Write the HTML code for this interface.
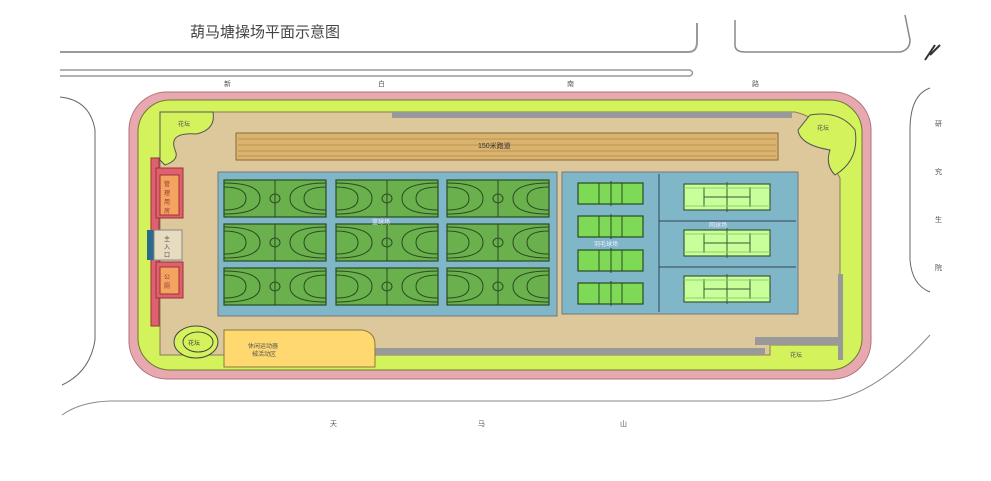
<!DOCTYPE html>
<html><head><meta charset="utf-8"><style>
html,body{margin:0;padding:0;background:#fff;}
svg{display:block;font-family:"Liberation Sans","Noto Sans CJK SC",sans-serif;}
</style></head><body>
<svg width="991" height="481" viewBox="0 0 991 481" xmlns="http://www.w3.org/2000/svg">
<defs>
<g id="bb">
<rect x="0" y="0" width="102" height="37" fill="#6ab04c" stroke="#2a4a22" stroke-width="1.2"/>
<line x1="51" y1="0" x2="51" y2="37" stroke="#2a4a22" stroke-width="1"/>
<ellipse cx="51" cy="18.5" rx="5" ry="4.5" fill="none" stroke="#2a4a22"/>
<path d="M0,3 Q36,3 36,18.5 Q36,34 0,34" fill="none" stroke="#2a4a22"/>
<path d="M0,7 Q22,7 22,18.5 Q22,30 0,30" fill="none" stroke="#2a4a22"/>
<path d="M102,3 Q66,3 66,18.5 Q66,34 102,34" fill="none" stroke="#2a4a22"/>
<path d="M102,7 Q80,7 80,18.5 Q80,30 102,30" fill="none" stroke="#2a4a22"/>
</g>
<g id="bd">
<rect x="0" y="0" width="65" height="21" fill="#7ed957" stroke="#2a4a22" stroke-width="1.2"/>
<line x1="21" y1="0" x2="21" y2="21" stroke="#2a4a22"/><line x1="33" y1="-2" x2="33" y2="23" stroke="#2a4a22"/><line x1="44" y1="0" x2="44" y2="21" stroke="#2a4a22"/>
</g>
<g id="tn">
<rect x="0" y="0" width="86" height="26" fill="#c8ff9a" stroke="#3a5a32" stroke-width="1.2"/>
<line x1="20" y1="3" x2="20" y2="23" stroke="#3a5a32"/><line x1="66" y1="3" x2="66" y2="23" stroke="#3a5a32"/>
<line x1="20" y1="13" x2="66" y2="13" stroke="#3a5a32"/><line x1="43" y1="-2" x2="43" y2="28" stroke="#3a5a32"/>
<line x1="0" y1="4" x2="86" y2="4" stroke="#8fcf6a"/><line x1="0" y1="22" x2="86" y2="22" stroke="#8fcf6a"/>
</g>
</defs>
<!-- title -->
<text x="190" y="37" font-size="15" fill="#444">葫马塘操场平面示意图</text>
<!-- roads -->
<path d="M60,52 H688 Q697,52 697,42 V23" fill="none" stroke="#999" stroke-width="2"/>
<path d="M735,20 V45 Q735,52 745,52 H900 Q910,50 910,40 L905,15" fill="none" stroke="#888" stroke-width="1.5"/>
<path d="M60,70 H690 Q695,73 690,76 H60" fill="none" stroke="#999" stroke-width="1.5"/>
<path d="M60,97 Q90,100 95,130 V340 Q90,372 62,385" fill="none" stroke="#666" stroke-width="1"/>
<path d="M930,88 Q910,95 910,130 V260 Q912,285 930,292" fill="none" stroke="#666" stroke-width="1"/>
<path d="M62,415 Q80,402 110,401 H820 Q870,401 930,335" fill="none" stroke="#888" stroke-width="1"/>
<path d="M925,60 L935,45 M930,55 L940,45" stroke="#333" stroke-width="2"/>
<g font-size="7" fill="#555">
<text x="224" y="86">新</text><text x="378" y="86">白</text><text x="567" y="86">南</text><text x="752" y="86">路</text>
<text x="935" y="126">研</text><text x="935" y="174">究</text><text x="935" y="222">生</text><text x="935" y="270">院</text>
<text x="330" y="426">天</text><text x="478" y="426">马</text><text x="620" y="426">山</text>
</g>
<!-- site -->
<rect x="129" y="92" width="742" height="287" rx="38" fill="#e8a8b0" stroke="#b07078"/>
<rect x="138" y="100" width="724" height="270" rx="32" fill="#d4f25c" stroke="#6a7a30"/>
<path d="M160,112 H795 Q830,120 830,160 L840,178 V345 H770 V355 H160 Z" fill="#dcc89a" stroke="#8a7a5a"/>
<path d="M160,112 H213 Q216,130 196,134 Q168,132 175,150 Q180,160 165,165 L160,160 Z" fill="#d4f25c" stroke="#555"/>
<path d="M810,115 Q840,110 855,130 Q860,160 835,175 Q825,165 830,150 Q800,145 798,130 Z" fill="#d4f25c" stroke="#555"/>
<rect x="392" y="112" width="400" height="6" fill="#999"/>
<rect x="838" y="274" width="5" height="86" fill="#999"/>
<path d="M375,348 H765 V355 H375 Z" fill="#999"/>
<path d="M755,337 H840 V345 H755 Z" fill="#999"/>
<!-- track -->
<rect x="236" y="133" width="542" height="27" fill="#d8b470" stroke="#8a6a3a"/>
<g stroke="#c0904a"><line x1="238" y1="139" x2="776" y2="139"/><line x1="238" y1="145" x2="776" y2="145"/><line x1="238" y1="151" x2="776" y2="151"/><line x1="238" y1="156" x2="776" y2="156"/></g>
<text x="478" y="148" font-size="7" fill="#333">150米跑道</text>
<!-- basketball -->
<rect x="218" y="172" width="339" height="144" fill="#7fb6c8" stroke="#777"/>
<use href="#bb" x="224" y="180"/><use href="#bb" x="336" y="180"/><use href="#bb" x="447" y="180"/>
<use href="#bb" x="224" y="224"/><use href="#bb" x="336" y="224"/><use href="#bb" x="447" y="224"/>
<use href="#bb" x="224" y="268"/><use href="#bb" x="336" y="268"/><use href="#bb" x="447" y="268"/>
<text x="372" y="224" font-size="6" fill="#eef">篮球场</text>
<!-- right courts -->
<rect x="562" y="172" width="236" height="142" fill="#7fb6c8" stroke="#777"/>
<line x1="659" y1="174" x2="659" y2="312" stroke="#345"/>
<line x1="659" y1="221" x2="796" y2="221" stroke="#345"/>
<line x1="659" y1="267" x2="796" y2="267" stroke="#345"/>
<use href="#bd" x="578" y="183"/><use href="#bd" x="578" y="216"/><use href="#bd" x="578" y="250"/><use href="#bd" x="578" y="283"/>
<use href="#tn" x="684" y="184"/><use href="#tn" x="684" y="230"/><use href="#tn" x="684" y="276"/>
<text x="594" y="246" font-size="6" fill="#eef">羽毛球场</text>
<text x="709" y="227" font-size="6" fill="#eef">网球场</text>
<!-- left building -->
<rect x="151" y="158" width="8" height="168" fill="#e06070" stroke="#933"/>
<rect x="156" y="168" width="27" height="50" fill="#e06070" stroke="#933"/>
<rect x="160" y="175" width="19" height="40" fill="#f4a460" stroke="#933"/>
<text x="164" y="186" font-size="6" fill="#933">管</text><text x="164" y="195" font-size="6" fill="#933">理</text><text x="164" y="204" font-size="6" fill="#933">用</text><text x="164" y="213" font-size="6" fill="#933">房</text>
<rect x="147" y="230" width="7" height="30" fill="#2a6a8a"/>
<rect x="154" y="230" width="28" height="30" fill="#e8dcc0" stroke="#888"/>
<text x="164" y="241" font-size="6" fill="#555">主</text><text x="164" y="249" font-size="6" fill="#555">入</text><text x="164" y="257" font-size="6" fill="#555">口</text>
<rect x="156" y="262" width="27" height="36" fill="#e06070" stroke="#933"/>
<rect x="160" y="267" width="19" height="27" fill="#f4a460" stroke="#933"/>
<text x="164" y="279" font-size="6" fill="#933">公</text><text x="164" y="288" font-size="6" fill="#933">厕</text>
<!-- bottom left -->
<ellipse cx="196" cy="342" rx="22" ry="16" fill="#d4f25c" stroke="#444"/>
<ellipse cx="198" cy="342" rx="15" ry="10" fill="none" stroke="#444"/>
<text x="188" y="345" font-size="6" fill="#444">花坛</text>
<path d="M224,330 H362 Q375,332 375,345 V367 H224 Z" fill="#ffd870" stroke="#8a7a3a"/>
<text x="248" y="348" font-size="6" fill="#555">休闲运动器</text><text x="252" y="356" font-size="6" fill="#555">械活动区</text>
<text x="178" y="126" font-size="6" fill="#555">花坛</text>
<text x="817" y="130" font-size="6" fill="#555">花坛</text>
<text x="790" y="357" font-size="6" fill="#555">花坛</text>
</svg>
</body></html>
